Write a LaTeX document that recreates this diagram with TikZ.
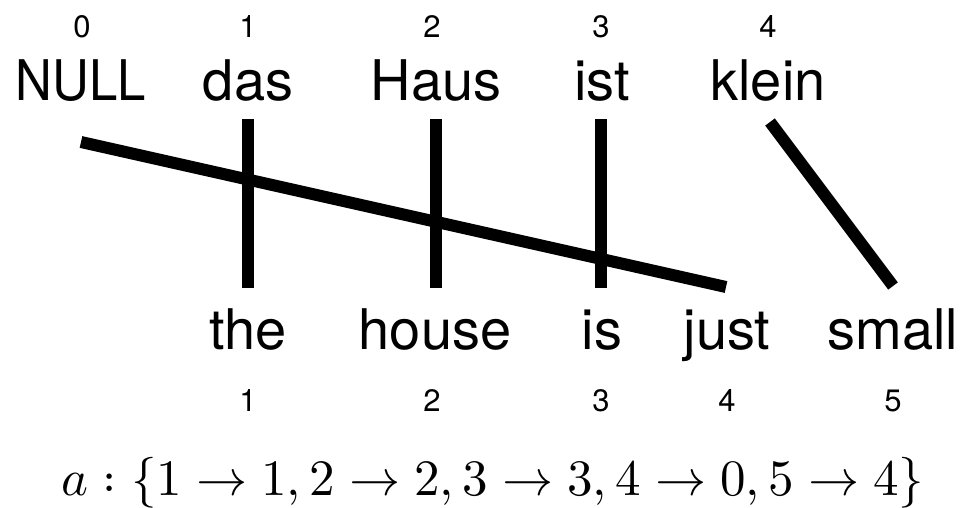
\documentclass[tikz,border=0pt]{standalone}
\usepackage{fontspec}
\setmainfont{TeX Gyre Heros}
\usepackage{unicode-math}
\setmathfont{Latin Modern Math}
\begin{document}
\begin{tikzpicture}[x=1pt,y=-1pt,
  word/.style={anchor=base,inner sep=0pt,font=\fontsize{56}{60}\selectfont},
  idx/.style={anchor=base,inner sep=0pt,font=\fontsize{31}{34}\selectfont},
  link/.style={line width=12pt,line cap=butt}]
\useasboundingbox (0,0) rectangle (966,507);
% source words
\node[idx] (n0) at (82,37) {0};
\node[idx] (n1) at (248,37) {1};
\node[idx] (n2) at (432,37) {2};
\node[idx] (n3) at (601,37) {3};
\node[idx] (n4) at (768,37) {4};
\node[word] (null) at (81,100) {\scalebox{0.91}[1]{NULL}};
\node[word] (das) at (248,100) {das};
\node[word] (haus) at (436,100) {Haus};
\node[word] (ist) at (602,100) {ist};
\node[word] (klein) at (768,100) {klein};
% target words
\node[word] (the) at (248,349) {the};
\node[word] (house) at (435,349) {house};
\node[word] (is) at (602,349) {is};
\node[word] (just) at (727,349) {just};
\node[word] (small) at (893,349) {small};
\node[idx] (m1) at (248,411) {1};
\node[idx] (m2) at (432,411) {2};
\node[idx] (m3) at (601,411) {3};
\node[idx] (m4) at (727,411) {4};
\node[idx] (m5) at (893,411) {5};
% link end points
\coordinate (nullA) at (81,142);
\coordinate (justA) at (726,287);
\coordinate (dasA) at (248,119);
\coordinate (theA) at (248,288);
\coordinate (hausA) at (436,119);
\coordinate (houseA) at (436,288);
\coordinate (istA) at (601,119);
\coordinate (isA) at (601,288);
\coordinate (kleinA) at (770,122);
\coordinate (smallA) at (893,286);
\draw[link] (nullA) -- (justA);
\draw[link] (dasA) -- (theA);
\draw[link] (hausA) -- (houseA);
\draw[link] (istA) -- (isA);
\draw[link] (kleinA) -- (smallA);
% alignment
\node[anchor=base,inner sep=0pt,font=\fontsize{51}{55}\selectfont] (align) at (493,495) {$a:\{1\rightarrow1,2\rightarrow2,3\rightarrow3,4\rightarrow0,5\rightarrow4\}$};
\end{tikzpicture}
\end{document}
